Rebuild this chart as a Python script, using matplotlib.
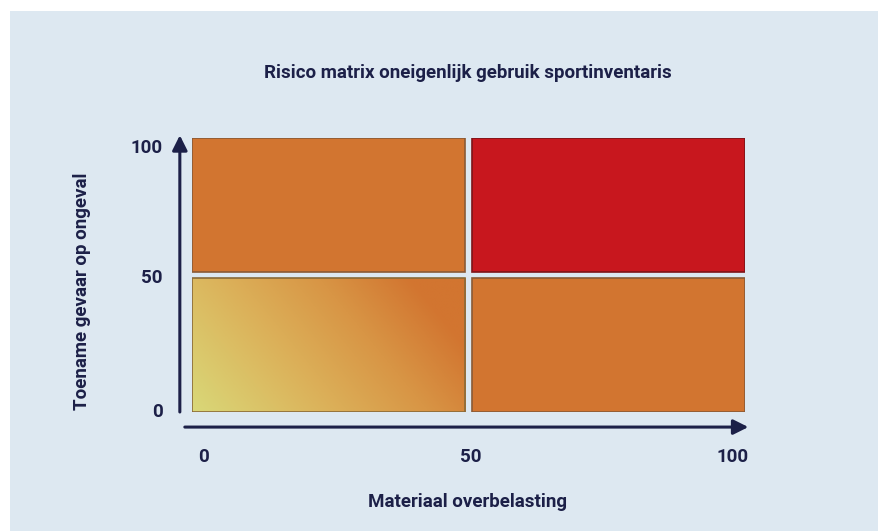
import numpy as np
import matplotlib
matplotlib.use("Agg")
import matplotlib.pyplot as plt
from matplotlib.colors import LinearSegmentedColormap
from matplotlib.patches import Rectangle

# Risico matrix: vier kwadranten (x0, x1, y0, y1, kleur)
title = "Risico matrix oneigenlijk gebruik sportinventaris"
x_label = "Materiaal overbelasting"
y_label = "Toename gevaar op ongeval"
x_ticks = [0, 50, 100]
y_ticks = [0, 50, 100]
quad_x0 = [0, 50, 0, 50]
quad_x1 = [50, 100, 50, 100]
quad_y0 = [50, 50, 0, 0]
quad_y1 = [100, 100, 50, 50]
quad_color = ["#d27530", "#c8171e", None, "#d27530"]   # None = gradient
quad_edge = ["#8a5a35", "#7d1418", "#8a6a38", "#8a5a35"]

BG = "#dde8f1"
NAVY = "#1c2048"
FS = 13.5
plt.rcParams["font.family"] = ["Roboto", "DejaVu Sans"]

W, H = 879, 531
fig = plt.figure(figsize=(W / 100, H / 100), dpi=100)
fig.patch.set_facecolor(BG)
# witte rand links en boven
fig.add_artist(Rectangle((0, 0), 10 / W, 1, transform=fig.transFigure,
                         facecolor="white", edgecolor="none", zorder=-10))
fig.add_artist(Rectangle((0, 1 - 11 / H), 1, 11 / H, transform=fig.transFigure,
                         facecolor="white", edgecolor="none", zorder=-10))

ax = fig.add_axes([192 / W, 1 - 412 / H, (745 - 192) / W, (412 - 138) / H])
ax.set_xlim(0, 100)
ax.set_ylim(0, 100)
ax.axis("off")

gap_x = 0.55
gap_y = 1.2
grad_cmap = LinearSegmentedColormap.from_list(
    "g", [(0, "#d9d878"), (0.35, "#dcb45c"), (0.65, "#d89545"), (0.9, "#d27530"), (1, "#d27530")])
for x0, x1, y0, y1, c, ec in zip(quad_x0, quad_x1, quad_y0, quad_y1, quad_color, quad_edge):
    a0 = x0 + (gap_x if x0 > 0 else 0)
    a1 = x1 - (gap_x if x1 < 100 else 0)
    b0 = y0 + (gap_y if y0 > 0 else 0)
    b1 = y1 - (gap_y if y1 < 100 else 0)
    if c is None:
        gx, gy = np.meshgrid(np.linspace(0, 1, 200), np.linspace(0, 1, 120))
        g = np.clip(gx * 0.75 + gy * 0.3, 0, 1)
        ax.imshow(g, extent=(a0, a1, b0, b1), origin="lower", cmap=grad_cmap,
                  aspect="auto", interpolation="bilinear", zorder=1)
        c = "none"
    ax.add_patch(Rectangle((a0, b0), a1 - a0, b1 - b0, facecolor=c,
                           edgecolor=ec, linewidth=1.2, zorder=2))

# assen als pijlen
ax.annotate("", xy=(-2.2, 101), xytext=(-2.2, 0), xycoords="data",
            arrowprops=dict(arrowstyle="-|>,head_length=0.9,head_width=0.45",
                            color=NAVY, lw=2.2, shrinkA=0, shrinkB=0),
            annotation_clip=False)
ax.annotate("", xy=(100.6, -5.5), xytext=(-1.3, -5.5), xycoords="data",
            arrowprops=dict(arrowstyle="-|>,head_length=0.9,head_width=0.45",
                            color=NAVY, lw=2.2, shrinkA=0, shrinkB=0),
            annotation_clip=False)

# tick labels (offsets in pixels)
px = 0.72
x_off = [12, 2, -12]
for t, dx in zip(x_ticks, x_off):
    ax.annotate(str(t), xy=(t, 0), xytext=(dx * px, -45 * px), textcoords="offset points",
                ha="center", va="center", fontsize=FS, fontweight="bold", color=NAVY,
                annotation_clip=False)
y_off = [0, -3, -10]
for t, dy in zip(y_ticks, y_off):
    ax.annotate(str(t), xy=(0, t), xytext=(-29 * px, dy * px), textcoords="offset points",
                ha="right", va="center", fontsize=FS, fontweight="bold", color=NAVY,
                annotation_clip=False)

fig.text(468 / W, 1 - 73 / H, title, ha="center", va="center",
         fontsize=FS, fontweight="bold", color=NAVY)
fig.text(468 / W, 1 - 502 / H, x_label, ha="center", va="center",
         fontsize=FS, fontweight="bold", color=NAVY)
fig.text(82 / W, 1 - 291 / H, y_label, ha="center", va="center", rotation=90,
         fontsize=FS, fontweight="bold", color=NAVY)

fig.savefig("out.png", dpi=100, facecolor=fig.get_facecolor())
